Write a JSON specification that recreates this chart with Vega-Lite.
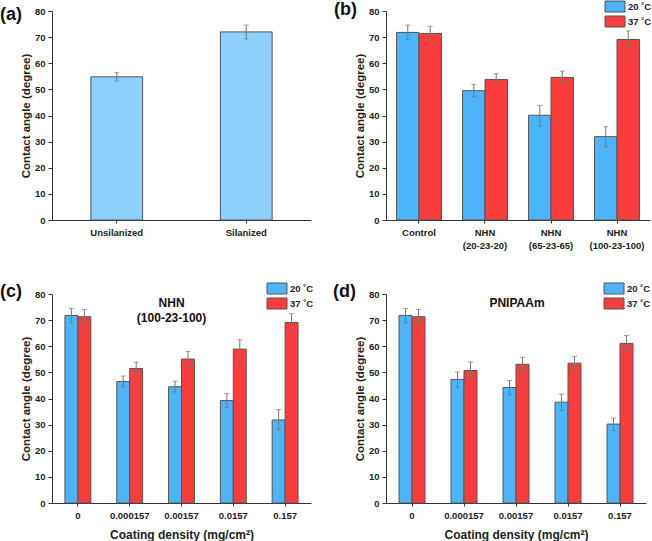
{
  "$schema": "https://vega.github.io/schema/vega-lite/v6.json",
  "padding": {"left": 0, "top": 1, "right": 0, "bottom": 0},
  "background": "white",
  "bounds": "flush",
  "columns": 2,
  "spacing": {"row": 74, "column": 75},
  "datasets": {
    "a": [
      {"g": "Unsilanized", "v": 54.8, "lo": 53.2, "hi": 56.4},
      {"g": "Silanized", "v": 72.0, "lo": 69.3, "hi": 74.6}
    ],
    "b": [
      {"g": "Control", "t": "20 ˚C", "v": 71.8, "lo": 69.1, "hi": 74.6},
      {"g": "Control", "t": "37 ˚C", "v": 71.4, "lo": 68.8, "hi": 74.1},
      {"g": "NHN (20-23-20)", "t": "20 ˚C", "v": 49.5, "lo": 47.2, "hi": 51.9},
      {"g": "NHN (20-23-20)", "t": "37 ˚C", "v": 53.8, "lo": 52.0, "hi": 56.0},
      {"g": "NHN (65-23-65)", "t": "20 ˚C", "v": 40.1, "lo": 36.0, "hi": 43.9},
      {"g": "NHN (65-23-65)", "t": "37 ˚C", "v": 54.6, "lo": 52.3, "hi": 57.0},
      {"g": "NHN (100-23-100)", "t": "20 ˚C", "v": 31.9, "lo": 27.9, "hi": 35.7},
      {"g": "NHN (100-23-100)", "t": "37 ˚C", "v": 69.1, "lo": 65.9, "hi": 72.4}
    ],
    "c": [
      {"g": "0", "t": "20 ˚C", "v": 71.8, "lo": 69.0, "hi": 74.5},
      {"g": "0", "t": "37 ˚C", "v": 71.3, "lo": 68.7, "hi": 74.1},
      {"g": "0.000157", "t": "20 ˚C", "v": 46.5, "lo": 44.5, "hi": 48.6},
      {"g": "0.000157", "t": "37 ˚C", "v": 51.5, "lo": 49.1, "hi": 53.9},
      {"g": "0.00157", "t": "20 ˚C", "v": 44.5, "lo": 42.4, "hi": 46.6},
      {"g": "0.00157", "t": "37 ˚C", "v": 55.1, "lo": 52.1, "hi": 58.0},
      {"g": "0.0157", "t": "20 ˚C", "v": 39.2, "lo": 36.5, "hi": 41.9},
      {"g": "0.0157", "t": "37 ˚C", "v": 58.9, "lo": 55.3, "hi": 62.5},
      {"g": "0.157", "t": "20 ˚C", "v": 31.8, "lo": 28.1, "hi": 35.8},
      {"g": "0.157", "t": "37 ˚C", "v": 69.1, "lo": 65.9, "hi": 72.5}
    ],
    "d": [
      {"g": "0", "t": "20 ˚C", "v": 71.8, "lo": 69.0, "hi": 74.5},
      {"g": "0", "t": "37 ˚C", "v": 71.3, "lo": 68.7, "hi": 74.1},
      {"g": "0.000157", "t": "20 ˚C", "v": 47.3, "lo": 44.2, "hi": 50.1},
      {"g": "0.000157", "t": "37 ˚C", "v": 50.7, "lo": 47.4, "hi": 54.0},
      {"g": "0.00157", "t": "20 ˚C", "v": 44.2, "lo": 41.3, "hi": 46.9},
      {"g": "0.00157", "t": "37 ˚C", "v": 53.1, "lo": 50.4, "hi": 55.8},
      {"g": "0.0157", "t": "20 ˚C", "v": 38.6, "lo": 35.4, "hi": 41.7},
      {"g": "0.0157", "t": "37 ˚C", "v": 53.5, "lo": 51.1, "hi": 56.1},
      {"g": "0.157", "t": "20 ˚C", "v": 30.2, "lo": 27.8, "hi": 32.5},
      {"g": "0.157", "t": "37 ˚C", "v": 61.1, "lo": 58.2, "hi": 64.1}
    ]
  },
  "resolve": {"scale": {"color": "independent", "x": "independent", "y": "independent", "xOffset": "independent"}, "legend": {"color": "independent"}},
  "concat": [
    {
      "width": 259, "height": 209,
      "title": {"text": "(a)", "anchor": "start", "frame": "group", "offset": 0, "dx": -52, "dy": 27, "baseline": "middle", "fontSize": 18, "fontWeight": "bold", "font": "Liberation Sans", "color": "#111"},
      "data": {"name": "a"},
      "layer": [
        {
          "mark": {"type": "bar", "color": "#8dd0fb", "stroke": "#555", "strokeWidth": 1},
          "encoding": {
            "x": {"field": "g", "type": "nominal", "sort": null, "title": null, "scale": {"paddingInner": 0.6, "paddingOuter": 0.3}},
            "y": {"field": "v", "type": "quantitative", "title": "Contact angle (degree)", "scale": {"domain": [0, 80]}, "axis": {"values": [0, 10, 20, 30, 40, 50, 60, 70, 80], "tickCount": 20, "labelOverlap": false}}
          }
        },
        {
          "mark": {"type": "rule", "color": "#777", "strokeWidth": 1},
          "encoding": {"x": {"field": "g", "type": "nominal", "sort": null}, "y": {"field": "lo", "type": "quantitative", "axis": {"values": [0, 10, 20, 30, 40, 50, 60, 70, 80], "tickCount": 20, "labelOverlap": false}}, "y2": {"field": "hi"}}
        },
        {
          "mark": {"type": "tick", "color": "#777", "size": 5, "thickness": 1},
          "encoding": {"x": {"field": "g", "type": "nominal", "sort": null}, "y": {"field": "lo", "type": "quantitative", "axis": {"values": [0, 10, 20, 30, 40, 50, 60, 70, 80], "tickCount": 20, "labelOverlap": false}}}
        },
        {
          "mark": {"type": "tick", "color": "#777", "size": 5, "thickness": 1},
          "encoding": {"x": {"field": "g", "type": "nominal", "sort": null}, "y": {"field": "hi", "type": "quantitative", "axis": {"values": [0, 10, 20, 30, 40, 50, 60, 70, 80], "tickCount": 20, "labelOverlap": false}}}
        }
      ]
    },
    {
      "width": 264, "height": 209,
      "title": {"text": "(b)", "anchor": "start", "frame": "group", "offset": 0, "dx": -52, "dy": 27, "baseline": "middle", "fontSize": 18, "fontWeight": "bold", "font": "Liberation Sans", "color": "#111"},
      "data": {"name": "b"},
      "encoding": {
        "x": {"field": "g", "type": "nominal", "sort": null, "title": null, "scale": {"paddingInner": 0.32, "paddingOuter": 0.16}, "axis": {"labelExpr": "datum.label == 'Control' ? 'Control' : split(datum.label, ' ')", "labelLineHeight": 13}},
        "xOffset": {"field": "t", "type": "nominal", "scale": {"paddingInner": 0, "paddingOuter": 0}}
      },
      "layer": [
        {
          "mark": {"type": "bar", "stroke": "#555", "strokeWidth": 1},
          "encoding": {
            "y": {"field": "v", "type": "quantitative", "title": "Contact angle (degree)", "scale": {"domain": [0, 80]}, "axis": {"values": [0, 10, 20, 30, 40, 50, 60, 70, 80], "tickCount": 20, "labelOverlap": false}},
            "color": {"field": "t", "type": "nominal", "scale": {"range": ["#4cb5f9", "#fa3c3c"]}, "legend": {"legendX": 223.5, "legendY": -10}}
          }
        },
        {
          "mark": {"type": "rule", "color": "#777", "strokeWidth": 1},
          "encoding": {"y": {"field": "lo", "type": "quantitative", "axis": {"values": [0, 10, 20, 30, 40, 50, 60, 70, 80], "tickCount": 20, "labelOverlap": false}}, "y2": {"field": "hi"}}
        },
        {
          "mark": {"type": "tick", "color": "#777", "size": 5, "thickness": 1},
          "encoding": {"y": {"field": "lo", "type": "quantitative", "axis": {"values": [0, 10, 20, 30, 40, 50, 60, 70, 80], "tickCount": 20, "labelOverlap": false}}}
        },
        {
          "mark": {"type": "tick", "color": "#777", "size": 5, "thickness": 1},
          "encoding": {"y": {"field": "hi", "type": "quantitative", "axis": {"values": [0, 10, 20, 30, 40, 50, 60, 70, 80], "tickCount": 20, "labelOverlap": false}}}
        }
      ]
    },
    {
      "width": 259, "height": 209,
      "title": {"text": "(c)", "anchor": "start", "frame": "group", "offset": 0, "dx": -52, "dy": 27, "baseline": "middle", "fontSize": 18, "fontWeight": "bold", "font": "Liberation Sans", "color": "#111"},
      "data": {"name": "c"},
      "encoding": {
        "x": {"field": "g", "type": "nominal", "sort": null, "title": "Coating density (mg/cm²)", "scale": {"paddingInner": 0.5, "paddingOuter": 0.25}},
        "xOffset": {"field": "t", "type": "nominal", "scale": {"paddingInner": 0, "paddingOuter": 0}}
      },
      "layer": [
        {
          "mark": {"type": "bar", "stroke": "#555", "strokeWidth": 1},
          "encoding": {
            "y": {"field": "v", "type": "quantitative", "title": "Contact angle (degree)", "scale": {"domain": [0, 80]}, "axis": {"values": [0, 10, 20, 30, 40, 50, 60, 70, 80], "tickCount": 20, "labelOverlap": false}},
            "color": {"field": "t", "type": "nominal", "scale": {"range": ["#4cb5f9", "#fa3c3c"]}, "legend": {"legendX": 219.5, "legendY": -11}}
          }
        },
        {
          "mark": {"type": "rule", "color": "#777", "strokeWidth": 1},
          "encoding": {"y": {"field": "lo", "type": "quantitative", "axis": {"values": [0, 10, 20, 30, 40, 50, 60, 70, 80], "tickCount": 20, "labelOverlap": false}}, "y2": {"field": "hi"}}
        },
        {
          "mark": {"type": "tick", "color": "#777", "size": 5, "thickness": 1},
          "encoding": {"y": {"field": "lo", "type": "quantitative", "axis": {"values": [0, 10, 20, 30, 40, 50, 60, 70, 80], "tickCount": 20, "labelOverlap": false}}}
        },
        {
          "mark": {"type": "tick", "color": "#777", "size": 5, "thickness": 1},
          "encoding": {"y": {"field": "hi", "type": "quantitative", "axis": {"values": [0, 10, 20, 30, 40, 50, 60, 70, 80], "tickCount": 20, "labelOverlap": false}}}
        },
        {
          "data": {"values": [{"label": "NHN (100-23-100)", "g": "0.00157", "yv": 78.5}]},
          "mark": {"type": "text", "text": ["NHN", "(100-23-100)"], "font": "Liberation Sans", "fontWeight": "bold", "fontSize": 12, "color": "#111", "baseline": "top", "lineHeight": 15, "dx": 3},
          "encoding": {"x": {"field": "g", "type": "nominal", "sort": null}, "xOffset": {"value": 0}, "y": {"field": "yv", "type": "quantitative", "axis": {"values": [0, 10, 20, 30, 40, 50, 60, 70, 80], "tickCount": 20, "labelOverlap": false}}}
        }
      ]
    },
    {
      "width": 260, "height": 209,
      "title": {"text": "(d)", "anchor": "start", "frame": "group", "offset": 0, "dx": -53, "dy": 27, "baseline": "middle", "fontSize": 18, "fontWeight": "bold", "font": "Liberation Sans", "color": "#111"},
      "data": {"name": "d"},
      "encoding": {
        "x": {"field": "g", "type": "nominal", "sort": null, "title": "Coating density (mg/cm²)", "scale": {"paddingInner": 0.5, "paddingOuter": 0.25}},
        "xOffset": {"field": "t", "type": "nominal", "scale": {"paddingInner": 0, "paddingOuter": 0}}
      },
      "layer": [
        {
          "mark": {"type": "bar", "stroke": "#555", "strokeWidth": 1},
          "encoding": {
            "y": {"field": "v", "type": "quantitative", "title": "Contact angle (degree)", "scale": {"domain": [0, 80]}, "axis": {"values": [0, 10, 20, 30, 40, 50, 60, 70, 80], "tickCount": 20, "labelOverlap": false}},
            "color": {"field": "t", "type": "nominal", "scale": {"range": ["#4cb5f9", "#fa3c3c"]}, "legend": {"legendX": 222.5, "legendY": -11}}
          }
        },
        {
          "mark": {"type": "rule", "color": "#777", "strokeWidth": 1},
          "encoding": {"y": {"field": "lo", "type": "quantitative", "axis": {"values": [0, 10, 20, 30, 40, 50, 60, 70, 80], "tickCount": 20, "labelOverlap": false}}, "y2": {"field": "hi"}}
        },
        {
          "mark": {"type": "tick", "color": "#777", "size": 5, "thickness": 1},
          "encoding": {"y": {"field": "lo", "type": "quantitative", "axis": {"values": [0, 10, 20, 30, 40, 50, 60, 70, 80], "tickCount": 20, "labelOverlap": false}}}
        },
        {
          "mark": {"type": "tick", "color": "#777", "size": 5, "thickness": 1},
          "encoding": {"y": {"field": "hi", "type": "quantitative", "axis": {"values": [0, 10, 20, 30, 40, 50, 60, 70, 80], "tickCount": 20, "labelOverlap": false}}}
        },
        {
          "data": {"values": [{"label": "PNIPAAm", "g": "0.00157", "yv": 78.5}]},
          "mark": {"type": "text", "text": "PNIPAAm", "font": "Liberation Sans", "fontWeight": "bold", "fontSize": 12, "color": "#111", "baseline": "top", "dx": 14},
          "encoding": {"x": {"field": "g", "type": "nominal", "sort": null}, "xOffset": {"value": 0}, "y": {"field": "yv", "type": "quantitative", "axis": {"values": [0, 10, 20, 30, 40, 50, 60, 70, 80], "tickCount": 20, "labelOverlap": false}}}
        }
      ]
    }
  ],
  "config": {
    "view": {"stroke": null},
    "font": "Liberation Sans",
    "axis": {"grid": false, "domainColor": "#333", "tickColor": "#333", "labelColor": "#222", "labelFont": "Liberation Sans", "labelFontWeight": "bold", "labelFontSize": 9.5, "titleFont": "Liberation Sans", "titleFontWeight": "bold", "titleColor": "#222"},
    "axisX": {"tickSize": 3, "labelAngle": 0, "labelPadding": 4, "titleFontSize": 12, "titlePadding": 10, "labelBaseline": "top"},
    "axisY": {"tickSize": 4, "labelPadding": 3, "titleFontSize": 11.5, "titlePadding": 3, "labelOverlap": false, "tickCount": 20},
    "legend": {"orient": "none", "title": null, "symbolType": "M-2,-1.1H2V1.1H-2Z", "symbolSize": 100, "symbolStrokeColor": "#555", "symbolStrokeWidth": 1, "symbolOpacity": 1, "labelFont": "Liberation Sans", "labelFontWeight": "bold", "labelFontSize": 9.5, "labelColor": "#222", "rowPadding": 0, "labelOffset": 7.5, "padding": 0}
  }
}
